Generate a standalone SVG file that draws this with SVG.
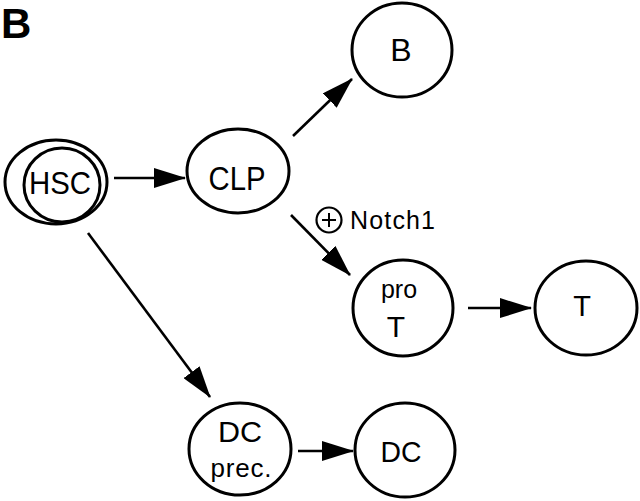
<svg xmlns="http://www.w3.org/2000/svg" width="640" height="501" viewBox="0 0 640 501">
<style>
.n{fill:#fff;stroke:#000;stroke-width:3}
.t{font-family:"Liberation Sans",Arial,sans-serif;fill:#000;text-anchor:middle}
.c{stroke:#000;stroke-width:2.6;fill:none;marker-end:url(#ah)}
</style>
<defs>
<marker id="ah" viewBox="0 0 32 20" refX="31" refY="10" markerWidth="32" markerHeight="20" markerUnits="userSpaceOnUse" orient="auto">
<path d="M0,0 L32,10 L0,20 z" fill="#000"/>
</marker>
</defs>
<rect width="640" height="501" fill="#fff"/>
<text x="1" y="38" font-family="'Liberation Sans',Arial,sans-serif" font-weight="bold" font-size="42">B</text>
<g id="connectors">
<line class="c" x1="114" y1="178" x2="185" y2="178"/>
<line class="c" x1="293" y1="136" x2="352" y2="79"/>
<line class="c" x1="291" y1="215" x2="350" y2="275"/>
<line class="c" x1="468" y1="308" x2="531" y2="308"/>
<line class="c" x1="88" y1="233" x2="210" y2="397"/>
<line class="c" x1="298" y1="451" x2="353" y2="451"/>
</g>
<g id="notch1">
<circle cx="329" cy="220" r="12.5" fill="none" stroke="#000" stroke-width="2.2"/>
<path d="M322,220 H336 M329,213 V227" stroke="#000" stroke-width="2"/>
<text x="350" y="229" font-family="'Liberation Sans',Arial,sans-serif" font-size="25" textLength="85" lengthAdjust="spacing">Notch1</text>
</g>
<g id="HSC">
<ellipse class="n" cx="56" cy="182" rx="51" ry="42"/>
<ellipse class="n" cx="62" cy="185" rx="38" ry="37" stroke-width="2.5"/>
<text class="t" x="60" y="194" font-size="32" textLength="62" lengthAdjust="spacingAndGlyphs">HSC</text>
</g>
<g id="CLP">
<ellipse class="n" cx="238" cy="171" rx="51" ry="42"/>
<text class="t" x="237" y="190" font-size="33" textLength="57" lengthAdjust="spacingAndGlyphs">CLP</text>
</g>
<g id="B">
<ellipse class="n" cx="402" cy="50" rx="50" ry="47"/>
<text class="t" x="401" y="61" font-size="32">B</text>
</g>
<g id="proT">
<ellipse class="n" cx="403" cy="308" rx="50" ry="48"/>
<text class="t" x="399" y="298" font-size="25">pro</text>
<text class="t" x="396" y="337" font-size="30">T</text>
</g>
<g id="T">
<ellipse class="n" cx="586" cy="308" rx="51" ry="47"/>
<text class="t" x="582" y="316" font-size="29">T</text>
</g>
<g id="DCprec">
<ellipse class="n" cx="240" cy="449" rx="51" ry="46"/>
<text class="t" x="240" y="442" font-size="29" textLength="44" lengthAdjust="spacingAndGlyphs">DC</text>
<text class="t" x="241" y="477" font-size="26" textLength="61" lengthAdjust="spacing">prec.</text>
</g>
<g id="DC">
<ellipse class="n" cx="405" cy="450" rx="50" ry="47"/>
<text class="t" x="401" y="462" font-size="29" textLength="41" lengthAdjust="spacingAndGlyphs">DC</text>
</g>
</svg>
